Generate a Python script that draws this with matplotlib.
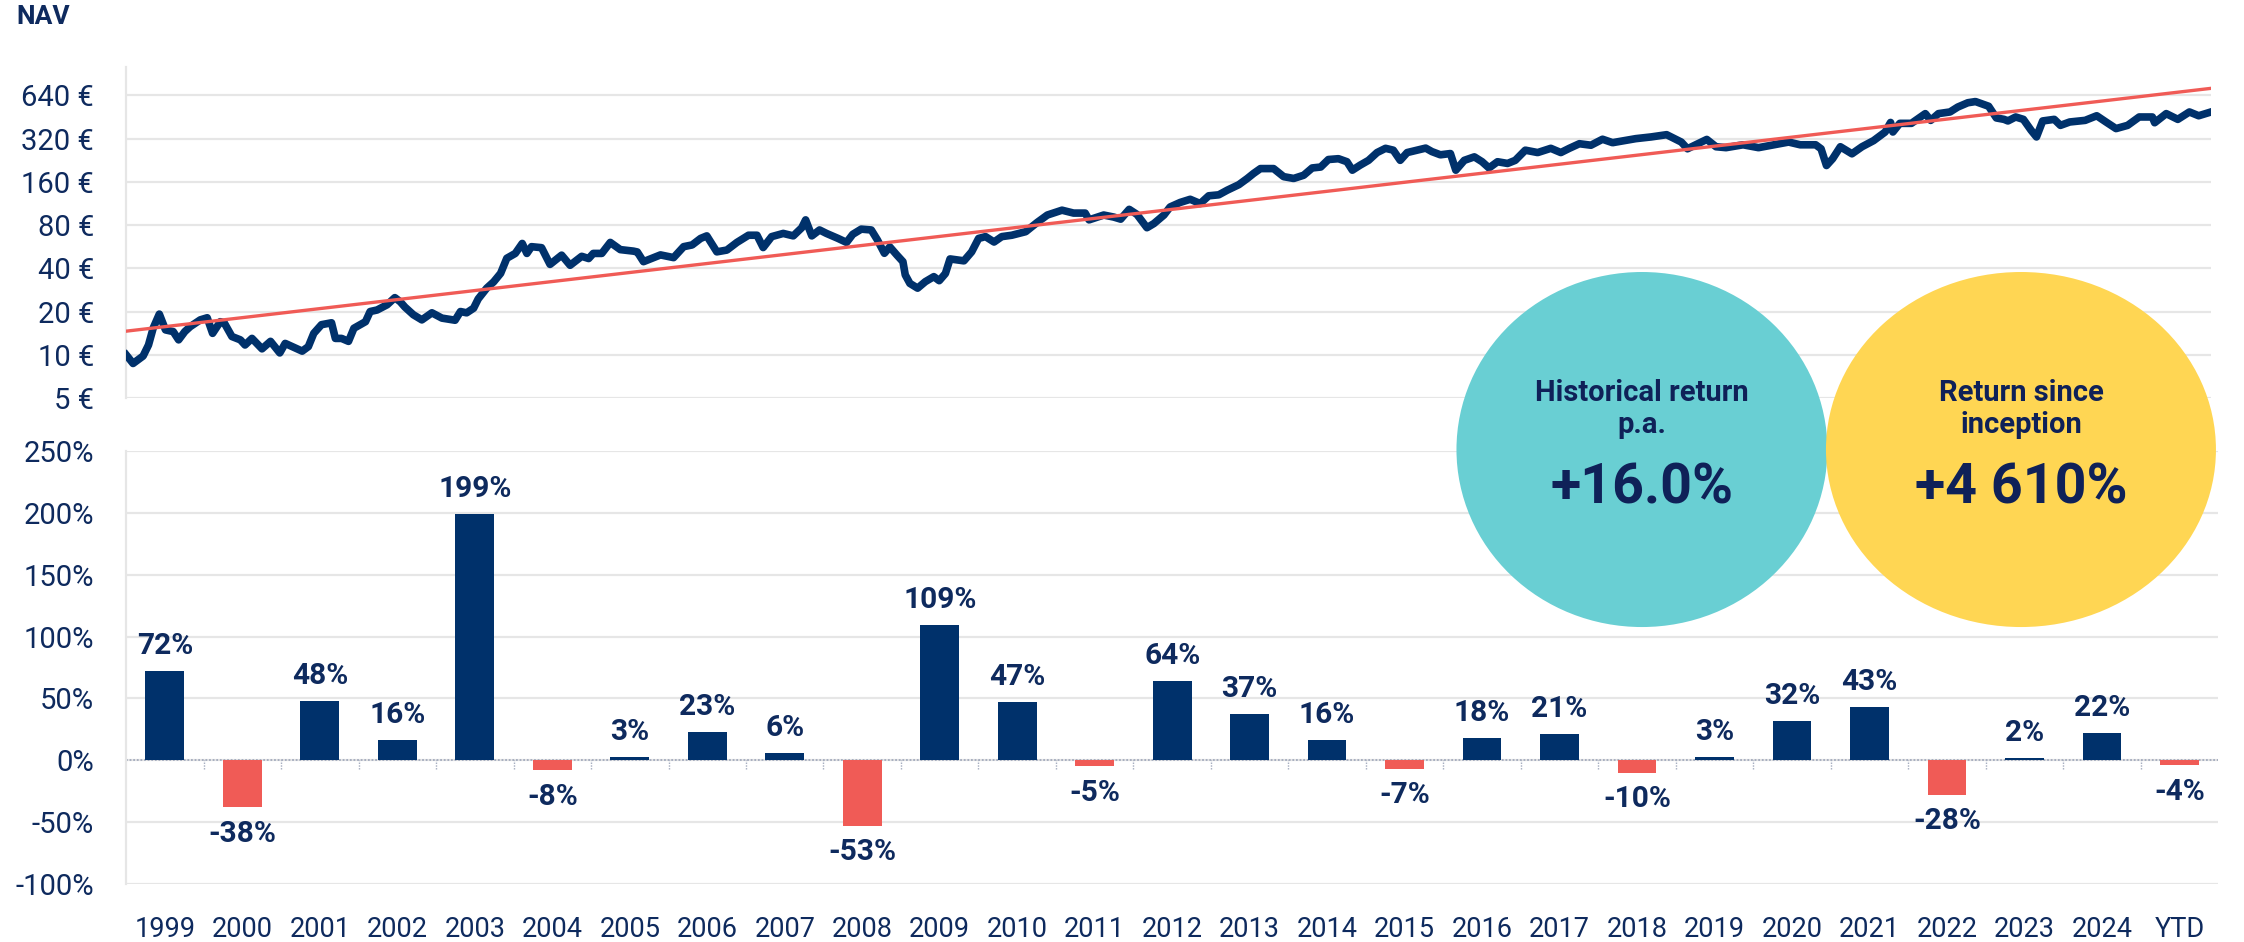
import matplotlib.pyplot as plt
from matplotlib.patches import Ellipse
from matplotlib.ticker import NullLocator

plt.rcParams['font.family'] = ['Roboto', 'DejaVu Sans']

# colours
NAVY = '#00316B'
TEXT = '#0E2A5E'
RED = '#F05B56'
TEAL = '#69CFD3'
YELLOW = '#FFD653'
GRID = '#E6E6E6'

# yearly returns (bottom panel)
years = ['1999', '2000', '2001', '2002', '2003', '2004', '2005', '2006', '2007',
         '2008', '2009', '2010', '2011', '2012', '2013', '2014', '2015', '2016',
         '2017', '2018', '2019', '2020', '2021', '2022', '2023', '2024', 'YTD']
returns = [72, -38, 48, 16, 199, -8, 3, 23, 6, -53, 109, 47, -5, 64, 37, 16, -7,
           18, 21, -10, 3, 32, 43, -28, 2, 22, -4]
ret_ticks = [-100, -50, 0, 50, 100, 150, 200, 250]

# NAV history (top panel), position on the chart's time axis and value in EUR
nav_t = [1999.00, 1999.09, 1999.22, 1999.29, 1999.35, 1999.43, 1999.51, 1999.61,
         1999.68, 1999.76, 1999.83, 1999.96, 2000.05, 2000.12, 2000.22, 2000.27,
         2000.37, 2000.48, 2000.54, 2000.63, 2000.76, 2000.87, 2000.99, 2001.06,
         2001.15, 2001.28, 2001.36, 2001.43, 2001.53, 2001.66, 2001.71, 2001.79,
         2001.88, 2001.95, 2002.10, 2002.16, 2002.25, 2002.38, 2002.48, 2002.55,
         2002.61, 2002.72, 2002.83, 2002.96, 2003.09, 2003.26, 2003.33, 2003.41,
         2003.50, 2003.56, 2003.67, 2003.76, 2003.85, 2003.93, 2004.04, 2004.13,
         2004.19, 2004.25, 2004.38, 2004.49, 2004.64, 2004.75, 2004.90, 2004.99,
         2005.05, 2005.16, 2005.27, 2005.40, 2005.57, 2005.62, 2005.70, 2005.92,
         2006.09, 2006.22, 2006.33, 2006.44, 2006.52, 2006.65, 2006.78, 2006.91,
         2007.06, 2007.17, 2007.25, 2007.36, 2007.51, 2007.64, 2007.75, 2007.80,
         2007.88, 2007.98, 2008.07, 2008.22, 2008.33, 2008.41, 2008.52, 2008.65,
         2008.73, 2008.82, 2008.89, 2008.98, 2009.06, 2009.09, 2009.15, 2009.25,
         2009.35, 2009.46, 2009.53, 2009.61, 2009.67, 2009.85, 2009.95, 2010.04,
         2010.13, 2010.24, 2010.34, 2010.47, 2010.65, 2010.80, 2010.93, 2011.12,
         2011.27, 2011.42, 2011.47, 2011.66, 2011.79, 2011.88, 2011.99, 2012.09,
         2012.22, 2012.31, 2012.44, 2012.52, 2012.65, 2012.78, 2012.91, 2013.02,
         2013.15, 2013.26, 2013.41, 2013.52, 2013.60, 2013.69, 2013.86, 2013.99,
         2014.12, 2014.25, 2014.36, 2014.47, 2014.57, 2014.70, 2014.81, 2014.88,
         2014.98, 2015.09, 2015.20, 2015.31, 2015.41, 2015.50, 2015.59, 2015.72,
         2015.83, 2015.91, 2016.02, 2016.15, 2016.22, 2016.33, 2016.46, 2016.56,
         2016.65, 2016.76, 2016.89, 2016.99, 2017.12, 2017.28, 2017.45, 2017.58,
         2017.69, 2017.82, 2017.97, 2018.12, 2018.25, 2018.40, 2018.55, 2018.75,
         2018.95, 2019.14, 2019.22, 2019.47, 2019.59, 2019.72, 2019.94, 2020.14,
         2020.34, 2020.53, 2020.68, 2020.88, 2020.95, 2021.02, 2021.10, 2021.20,
         2021.35, 2021.48, 2021.63, 2021.78, 2021.85, 2021.88, 2021.97, 2022.12,
         2022.30, 2022.37, 2022.47, 2022.62, 2022.72, 2022.85, 2022.95, 2023.12,
         2023.22, 2023.32, 2023.37, 2023.47, 2023.57, 2023.67, 2023.74, 2023.82,
         2023.97, 2024.05, 2024.17, 2024.37, 2024.52, 2024.64, 2024.77, 2024.92,
         2025.07, 2025.24, 2025.27, 2025.42, 2025.57, 2025.72, 2025.84, 2026.00]
nav_values = [10.0, 8.7, 9.8, 11.7, 15.3, 19.2, 14.9, 14.5,
              12.7, 14.5, 15.7, 17.5, 18.1, 14.1, 17.0, 16.7,
              13.4, 12.7, 11.7, 13.0, 11.0, 12.4, 10.3, 12.0,
              11.4, 10.6, 11.4, 14.1, 16.2, 16.7, 13.0, 13.0,
              12.4, 15.3, 17.0, 20.0, 20.5, 22.3, 25.0, 23.4,
              21.5, 19.0, 17.5, 19.6, 18.0, 17.4, 20.0, 19.6,
              21.1, 24.5, 29.1, 32.2, 36.9, 47.0, 50.8, 59.6,
              50.8, 56.6, 55.7, 42.6, 49.4, 42.0, 48.5, 46.8,
              50.8, 50.8, 60.6, 54.0, 52.7, 52.0, 44.5, 49.6,
              47.5, 56.6, 58.2, 64.6, 67.3, 52.1, 53.6, 60.6,
              68.0, 68.0, 55.8, 66.5, 70.0, 67.3, 76.7, 87.0,
              67.3, 74.0, 70.0, 64.6, 60.6, 69.0, 75.0, 74.0,
              63.0, 50.9, 56.4, 49.6, 44.5, 36.0, 31.4, 29.1,
              32.3, 35.0, 32.8, 36.8, 46.5, 45.1, 52.1, 64.6,
              66.5, 61.0, 66.5, 68.0, 72.0, 83.6, 94.0, 101.6,
              97.0, 97.0, 87.0, 94.0, 91.0, 88.0, 103, 95,
              76.7, 82, 94, 107, 115, 121, 113, 128,
              130, 140, 153, 169, 183, 198, 198, 174,
              169, 178, 200, 203, 229, 232, 221, 193,
              209, 226, 256, 274, 266, 226, 256, 266,
              275, 260, 247, 252, 193, 226, 239, 221,
              200, 221, 215, 226, 266, 256, 274, 256,
              274, 295, 288, 317, 300, 310, 320, 329,
              341, 303, 272, 316, 281, 277, 290, 277,
              290, 303, 290, 290, 272, 208, 232, 281,
              251, 281, 310, 356, 415, 356, 409, 409,
              478, 429, 478, 491, 531, 569, 580, 538,
              446, 436, 425, 453, 436, 366, 329, 425,
              436, 396, 418, 429, 462, 418, 376, 396,
              453, 453, 413, 478, 436, 491, 462, 491]
trend_t = [1999, 2026]
trend_values = [14.6, 717]
nav_ticks = [5, 10, 20, 40, 80, 160, 320, 640]

fig = plt.figure(figsize=(22.44, 9.42), dpi=100)
ax1 = fig.add_axes([0.0562, 0.5775, 0.9291, 0.3514])
ax2 = fig.add_axes([0.0562, 0.0616, 0.9323, 0.4597])

# --- NAV panel ---
ax1.plot(nav_t, nav_values, color=NAVY, lw=5.5, solid_joinstyle='round', zorder=3)
ax1.plot(trend_t, trend_values, color=RED, lw=2.4, zorder=4)
ax1.set_yscale('log', base=2)
ax1.set_xlim(1999, 2026)
ax1.set_ylim(5, 1010)
ax1.set_yticks(nav_ticks)
ax1.set_yticklabels([f'{t} €' for t in nav_ticks])
ax1.yaxis.set_minor_locator(NullLocator())
ax1.set_xticks([])
ax1.yaxis.grid(True, color=GRID, lw=1.6)
ax1.set_axisbelow(True)
for s in ['top', 'right', 'bottom']:
    ax1.spines[s].set_visible(False)
ax1.spines['left'].set_color(GRID)
ax1.spines['left'].set_linewidth(1.6)
ax1.tick_params(axis='y', length=0, pad=23, labelsize=21, labelcolor=TEXT)

# --- yearly returns panel ---
x = list(range(len(years)))
colors = [NAVY if v >= 0 else RED for v in returns]
ax2.bar(x, returns, width=0.5, color=colors, zorder=3)
ax2.axhline(0, color='#A3ABBE', lw=1.3, ls=(0, (1, 1)), zorder=2)
ax2.vlines([i + 0.5 for i in x[:-1]], -7, 0, color='#A3ABBE', lw=1.0,
           linestyles=(0, (1, 1)), zorder=2)
for i, v in zip(x, returns):
    ax2.annotate(f'{v}%', (i, v), xytext=(0, 18 if v >= 0 else -19),
                 textcoords='offset points', ha='center', va='center',
                 fontsize=21.5, fontweight='bold', color=TEXT)
ax2.set_xlim(-0.5, len(years) - 0.5)
ax2.set_ylim(-100, 250)
ax2.set_yticks(ret_ticks)
ax2.set_yticklabels([f'{t}%' for t in ret_ticks])
ax2.set_xticks(x)
ax2.set_xticklabels(years)
ax2.yaxis.grid(True, color=GRID, lw=1.6)
ax2.set_axisbelow(True)
for s in ['top', 'right', 'bottom']:
    ax2.spines[s].set_visible(False)
ax2.spines['left'].set_color(GRID)
ax2.spines['left'].set_linewidth(1.6)
ax2.tick_params(axis='y', length=0, pad=23, labelsize=21, labelcolor=TEXT)
ax2.tick_params(axis='x', length=0, pad=23, labelsize=19.5, labelcolor=TEXT)

# title
fig.text(16 / 2244, 1 - 17 / 942, 'NAV', fontsize=19, fontweight='bold',
         color=TEXT, ha='left', va='center')

# highlight bubbles
bubbles = [
    (0.7317, 0.1653, TEAL, 'Historical return\np.a.', '+16.0%'),
    (0.9006, 0.1738, YELLOW, 'Return since\ninception', '+4 610%'),
]
for cx, w, col, label, value in bubbles:
    fig.add_artist(Ellipse((cx, 0.5228), w, 0.3769, transform=fig.transFigure,
                           facecolor=col, edgecolor='none', zorder=5))
    fig.text(cx, 1 - 409 / 942, label, ha='center', va='center', fontsize=21,
             fontweight='bold', color='#0F2158', linespacing=1.2, zorder=6)
    fig.text(cx, 1 - 489 / 942, value, ha='center', va='center', fontsize=40,
             fontweight='bold', color='#0F2158', zorder=6)

fig.savefig('out.png', dpi=100)
